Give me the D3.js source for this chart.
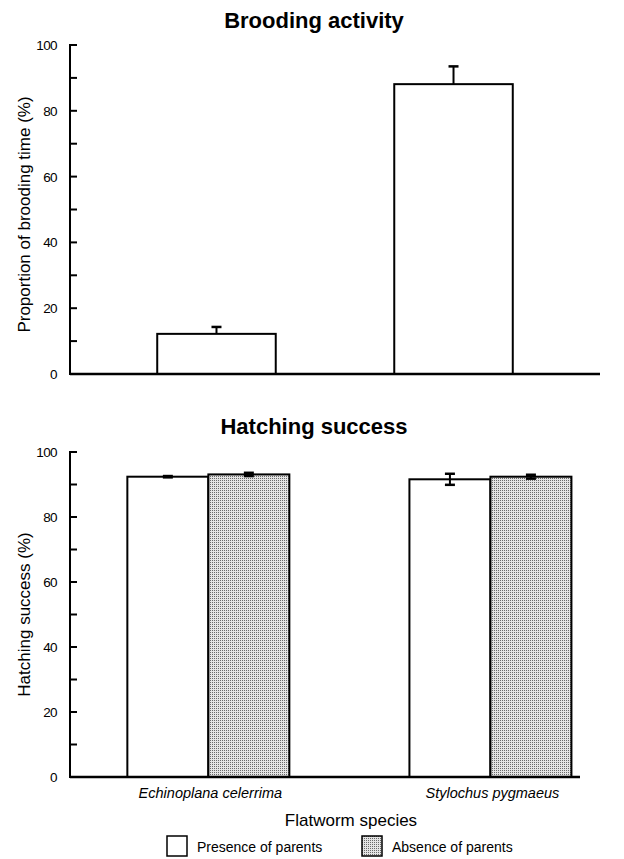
<!DOCTYPE html>
<html>
<head>
<meta charset="utf-8">
<script src="https://cdn.jsdelivr.net/npm/d3@7"></script>
<style>
  body { margin: 0; background: #fff; }
  text { font-family: "Liberation Sans", Arial, sans-serif; fill: #000; }
</style>
</head>
<body>
<svg id="chart" width="624" height="859"></svg>
<script>
// brooding activity (presence of parents only)
const broodSpecies = ['Echinoplana celerrima', 'Stylochus pygmaeus']
const broodValues = [12.2, 88.1]
const broodErr = [2.1, 5.4]

// hatching success
const species = ['Echinoplana celerrima', 'Stylochus pygmaeus']
const treatments = ['Presence of parents', 'Absence of parents']
const hatchPresence = [92.4, 91.6]
const hatchPresenceErr = [0.2, 1.7]
const hatchAbsence = [93.1, 92.4]
const hatchAbsenceErr = [0.5, 0.6]

const yTicks = [0, 20, 40, 60, 80, 100]
const yMinor = [10, 30, 50, 70, 90]

const svg = d3.select('#chart')

const defs = svg.append('defs')
const pat = defs.append('pattern')
  .attr('id', 'stipple')
  .attr('patternUnits', 'userSpaceOnUse')
  .attr('width', 2).attr('height', 2)
pat.append('rect').attr('width', 2).attr('height', 2).attr('fill', '#e4e4e4')
pat.append('rect').attr('width', 1).attr('height', 1).attr('fill', '#6a6a6a')

function yAxis(g, y) {
  g.append('line')
    .attr('x1', 0).attr('x2', 0)
    .attr('y1', y(0)).attr('y2', y(100))
    .attr('stroke', '#000').attr('stroke-width', 2)
  g.selectAll('.maj').data(yTicks).enter().append('line')
    .attr('x1', -1).attr('x2', 7)
    .attr('y1', d => y(d)).attr('y2', d => y(d))
    .attr('stroke', '#000').attr('stroke-width', 2)
  g.selectAll('.min').data(yMinor).enter().append('line')
    .attr('x1', 0).attr('x2', 7)
    .attr('y1', d => y(d)).attr('y2', d => y(d))
    .attr('stroke', '#000').attr('stroke-width', 2)
  g.selectAll('.lab').data(yTicks).enter().append('text')
    .attr('x', -13).attr('y', d => y(d) + 5)
    .attr('text-anchor', 'end')
    .attr('font-size', 13.5)
    .attr('letter-spacing', -0.6)
    .text(d => d)
}

// ---------- top panel ----------
const yTop = d3.scaleLinear().domain([0, 100]).range([374, 45])
const xTop = d3.scalePoint().domain(broodSpecies).range([70, 600]).padding(0.618)
const barW = xTop.step() * 0.5

svg.append('text')
  .attr('x', 314).attr('y', 28)
  .attr('text-anchor', 'middle')
  .attr('font-size', 22).attr('font-weight', 'bold')
  .text('Brooding activity')

const topPanel = svg.append('g')

topPanel.selectAll('.err').data(broodSpecies).enter().append('g').each(function (d, i) {
  const g = d3.select(this)
  const cx = xTop(d)
  g.append('line')
    .attr('x1', cx).attr('x2', cx)
    .attr('y1', yTop(broodValues[i])).attr('y2', yTop(broodValues[i] + broodErr[i]))
    .attr('stroke', '#000').attr('stroke-width', 2)
  g.append('line')
    .attr('x1', cx - 5).attr('x2', cx + 5)
    .attr('y1', yTop(broodValues[i] + broodErr[i])).attr('y2', yTop(broodValues[i] + broodErr[i]))
    .attr('stroke', '#000').attr('stroke-width', 2.5)
})

topPanel.selectAll('.bar').data(broodSpecies).enter().append('rect')
  .attr('x', d => xTop(d) - barW / 2)
  .attr('width', barW)
  .attr('y', (d, i) => yTop(broodValues[i]))
  .attr('height', (d, i) => yTop(0) - yTop(broodValues[i]))
  .attr('fill', '#fff').attr('stroke', '#000').attr('stroke-width', 2)

topPanel.append('line')
  .attr('x1', 70).attr('x2', 600)
  .attr('y1', yTop(0)).attr('y2', yTop(0))
  .attr('stroke', '#000').attr('stroke-width', 2.5)

yAxis(topPanel.append('g').attr('transform', 'translate(70,0)'), yTop)

svg.append('text')
  .attr('transform', `translate(30,${(yTop(0) + yTop(100)) / 2 + 5}) rotate(-90)`)
  .attr('text-anchor', 'middle')
  .attr('font-size', 17)
  .text('Proportion of brooding time (%)')

// ---------- bottom panel ----------
const yBot = d3.scaleLinear().domain([0, 100]).range([777, 452])
const xBot = d3.scalePoint().domain(species).range([70, 580]).padding(0.404).align(0.607)
const xSub = d3.scaleBand().domain(treatments).range([-81, 81]).padding(0)

svg.append('text')
  .attr('x', 314).attr('y', 434)
  .attr('text-anchor', 'middle')
  .attr('font-size', 22).attr('font-weight', 'bold')
  .text('Hatching success')

const botPanel = svg.append('g')

const rows = []
species.forEach((s, i) => {
  rows.push({ s, t: treatments[0], v: hatchPresence[i], e: hatchPresenceErr[i] })
  rows.push({ s, t: treatments[1], v: hatchAbsence[i], e: hatchAbsenceErr[i] })
})

botPanel.selectAll('.bar').data(rows).enter().append('rect')
  .attr('x', d => xBot(d.s) + xSub(d.t))
  .attr('width', xSub.bandwidth())
  .attr('y', d => yBot(d.v))
  .attr('height', d => yBot(0) - yBot(d.v))
  .attr('fill', d => d.t === treatments[0] ? '#fff' : 'url(#stipple)')
  .attr('stroke', '#000').attr('stroke-width', 2)

botPanel.selectAll('.err').data(rows).enter().append('g').each(function (d) {
  const g = d3.select(this)
  const cx = xBot(d.s) + xSub(d.t) + xSub.bandwidth() / 2
  g.append('line')
    .attr('x1', cx).attr('x2', cx)
    .attr('y1', yBot(d.v - d.e)).attr('y2', yBot(d.v + d.e))
    .attr('stroke', '#000').attr('stroke-width', 2)
  ;[d.v - d.e, d.v + d.e].forEach(v => {
    g.append('line')
      .attr('x1', cx - 5).attr('x2', cx + 5)
      .attr('y1', yBot(v)).attr('y2', yBot(v))
      .attr('stroke', '#000').attr('stroke-width', 2.5)
  })
})

botPanel.append('line')
  .attr('x1', 70).attr('x2', 580)
  .attr('y1', yBot(0)).attr('y2', yBot(0))
  .attr('stroke', '#000').attr('stroke-width', 2.5)

yAxis(botPanel.append('g').attr('transform', 'translate(70,0)'), yBot)

svg.append('text')
  .attr('transform', `translate(30,${(yBot(0) + yBot(100)) / 2}) rotate(-90)`)
  .attr('text-anchor', 'middle')
  .attr('font-size', 17)
  .text('Hatching success (%)')

botPanel.selectAll('.sp').data(species).enter().append('text')
  .attr('x', d => xBot(d) + 2)
  .attr('y', 798)
  .attr('text-anchor', 'middle')
  .attr('font-size', 14.5)
  .attr('font-style', 'italic')
  .text(d => d)

svg.append('text')
  .attr('x', 351).attr('y', 826)
  .attr('text-anchor', 'middle')
  .attr('font-size', 17)
  .text('Flatworm species')

// legend
const legX = [167, 362]
const leg = svg.append('g')
treatments.forEach((t, i) => {
  leg.append('rect')
    .attr('x', legX[i]).attr('y', 836)
    .attr('width', 20).attr('height', 20)
    .attr('fill', i === 0 ? '#fff' : 'url(#stipple)')
    .attr('stroke', '#000').attr('stroke-width', 1.5)
  leg.append('text')
    .attr('x', legX[i] + 30).attr('y', 852)
    .attr('font-size', 14)
    .text(t)
})
</script>
</body>
</html>
